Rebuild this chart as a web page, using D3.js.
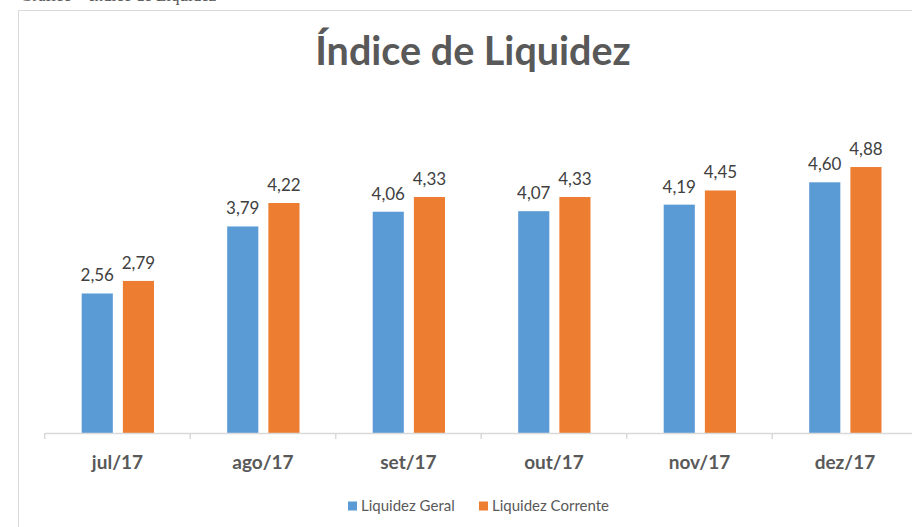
<!DOCTYPE html>
<html><head><meta charset="utf-8">
<script src="https://cdn.jsdelivr.net/npm/d3@7"></script>
<style>html,body{margin:0;padding:0;background:#fff;overflow:hidden}svg{display:block}</style>
</head><body>
<script>
const categories = ["jul/17","ago/17","set/17","out/17","nov/17","dez/17"];
const seriesNames = ["Liquidez Geral","Liquidez Corrente"];
const liquidezGeral = [2.56,3.79,4.06,4.07,4.19,4.60];
const liquidezCorrente = [2.79,4.22,4.33,4.33,4.45,4.88];
const colors = ["#5B9BD5","#ED7D31"];
const title = "Índice de Liquidez";
const caption = "Gráfico – Índice de Liquidez";

const W = 912, H = 527;
const svg = d3.select("body").append("svg").attr("width",W).attr("height",H);

svg.append("text").attr("x",20).attr("y",0.5).attr("font-family","Liberation Serif")
  .attr("font-size",17).attr("fill","#555").text(caption);

svg.append("rect").attr("x",18.5).attr("y",10.5).attr("width",W).attr("height",H)
  .attr("fill","#fff").attr("stroke","#d9d9d9").attr("stroke-width",1);

svg.append("text").attr("x",473).attr("y",65).attr("text-anchor","middle")
  .attr("font-family","Lato").attr("font-weight","bold").attr("font-size",39.5)
  .attr("fill","#595959").text(title);

const x0 = d3.scaleBand().domain(categories).range([44.7, 44.7+145.5*6]).paddingInner(0).paddingOuter(0);
const x1 = d3.scaleBand().domain(seriesNames).range([37, 37+72.3]).paddingInner(0.244).paddingOuter(0);
const y = d3.scaleLinear().domain([0,6]).range([433,106]);

const data = categories.map((c,i)=>({cat:c, vals:[liquidezGeral[i], liquidezCorrente[i]]}));

const g = svg.append("g");
const groups = g.selectAll("g.cat").data(data).enter().append("g")
  .attr("transform", d=>`translate(${x0(d.cat)},0)`);
groups.selectAll("rect").data(d=>d.vals.map((v,j)=>({s:seriesNames[j], v, j})))
  .enter().append("rect")
  .attr("x", d=>x1(d.s)).attr("width", x1.bandwidth())
  .attr("y", d=>y(d.v)).attr("height", d=>y(0)-y(d.v))
  .attr("fill", d=>colors[d.j]);
groups.selectAll("text").data(d=>d.vals.map((v,j)=>({s:seriesNames[j], v, j})))
  .enter().append("text")
  .attr("x", d=>x1(d.s)+x1.bandwidth()/2).attr("y", d=>y(d.v)-12)
  .attr("text-anchor","middle").attr("font-family","Lato").attr("font-size",17)
  .attr("fill","#404040").text(d=>d.v.toFixed(2).replace(".",","));

// axis
const axis = d3.axisBottom(x0).tickSize(0).tickPadding(0);
const ag = svg.append("g").attr("transform","translate(0,433)").call(axis);
ag.select(".domain").attr("stroke","#d9d9d9").attr("stroke-width",1.5);
ag.selectAll(".tick text").attr("y",36).attr("dy",0).attr("font-family","Lato")
  .attr("font-weight","bold").attr("font-size",19).attr("fill","#595959");
ag.selectAll(".tick line").remove();
// category boundary ticks
ag.selectAll("line.bnd").data(categories).enter().append("line")
  .attr("class","bnd").attr("x1",d=>x0(d)).attr("x2",d=>x0(d))
  .attr("y1",0).attr("y2",6).attr("stroke","#d9d9d9").attr("stroke-width",1.5);

// legend
const legX = [348, 479];
const lg = svg.append("g");
seriesNames.forEach((s,i)=>{
  lg.append("rect").attr("x",legX[i]).attr("y",501.5).attr("width",9).attr("height",9).attr("fill",colors[i]);
  lg.append("text").attr("x",legX[i]+13).attr("y",511).attr("font-family","Lato")
    .attr("font-size",15).attr("fill","#595959").text(s);
});
</script>
</body></html>
